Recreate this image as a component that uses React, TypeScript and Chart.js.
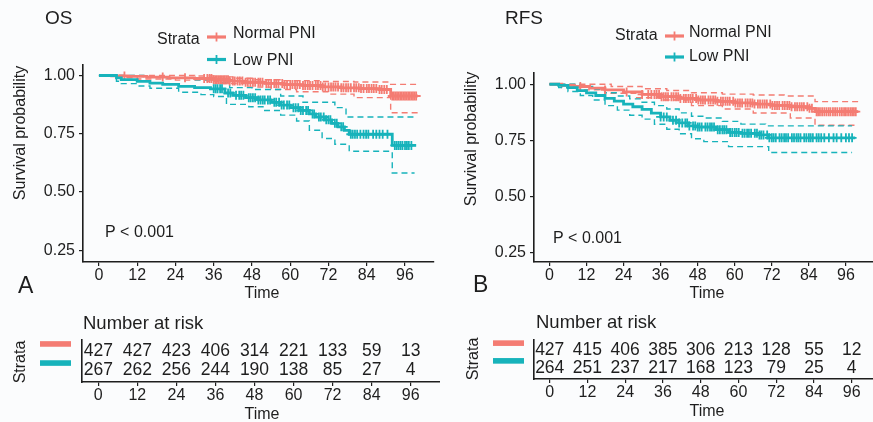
import React, { useEffect, useRef } from 'react';
import { Chart, registerables } from 'chart.js';
Chart.register(...registerables);

// ---------- data ----------
const xTicks = [0, 12, 24, 36, 48, 60, 72, 84, 96];
const yTicks = [0.25, 0.5, 0.75, 1.0];
const strataNames = ['Normal PNI', 'Low PNI'];

// OS – Normal PNI
const osNormT = [0, 4, 9, 15, 22, 30, 36, 41, 46, 52, 58, 64, 70, 76, 82, 88, 91.5, 100];
const osNormS = [1, 0.998, 0.996, 0.993, 0.99, 0.987, 0.982, 0.976, 0.971, 0.966, 0.961, 0.957, 0.951, 0.947, 0.944, 0.94, 0.912, 0.912];
const osNormUpT = [0, 20, 30, 36, 42, 48, 58, 70, 80, 91.5, 100];
const osNormUpS = [1, 1, 0.998, 0.994, 0.988, 0.982, 0.978, 0.974, 0.972, 0.962, 0.962];
const osNormLoT = [0, 5, 12, 24, 34, 38, 46, 54, 62, 72, 80, 91.5, 100];
const osNormLoS = [1, 0.99, 0.985, 0.98, 0.975, 0.965, 0.95, 0.94, 0.93, 0.92, 0.905, 0.84, 0.84];
const osNormCens = [8, 20, 27, 33, 34, 34.7, 35.3, 36, 36.5, 37, 37.5, 38, 38.5, 39, 39.5, 40, 40.5, 41, 42, 42.6, 43.5, 44.2, 45, 46, 46.7, 47.5, 48.3, 49, 50, 50.6, 51.3, 52.5, 53.2, 54, 55, 55.6, 56.3, 57.5, 58.2, 59, 60, 60.7, 61.5, 62.2, 63, 64, 64.7, 65.5, 66.2, 67, 68, 68.7, 69.5, 70.2, 71, 72, 72.8, 73.5, 74.2, 75, 76, 76.7, 77.5, 78.2, 79, 80, 80.7, 81.5, 82.2, 83, 84, 84.7, 85.5, 86.2, 87, 88, 88.7, 89.5, 90.3, 92, 92.5, 93, 93.5, 94, 94.5, 95, 95.5, 96, 96.5, 97, 97.5, 98, 98.5, 99, 99.5];

// OS – Low PNI
const osLowT = [0, 5.5, 7, 12, 16, 20, 25, 30, 35, 39.5, 42, 46, 50, 54, 57, 60, 63, 66, 68, 71, 73, 75, 77, 78.5, 92, 99.5];
const osLowS = [1, 0.99, 0.982, 0.975, 0.967, 0.962, 0.953, 0.948, 0.943, 0.925, 0.915, 0.905, 0.895, 0.885, 0.873, 0.862, 0.85, 0.835, 0.822, 0.81, 0.795, 0.78, 0.765, 0.748, 0.7, 0.7];
const osLowUpT = [0, 8, 14, 20, 30, 38, 41, 48, 57, 64, 74, 77.5, 99];
const osLowUpS = [1, 1, 0.995, 0.99, 0.982, 0.97, 0.948, 0.94, 0.912, 0.885, 0.862, 0.822, 0.822];
const osLowLoT = [0, 5.5, 7, 12, 16, 25, 32, 36, 40, 47, 52, 57, 62, 66, 70, 74, 78.5, 92, 99];
const osLowLoS = [1, 0.975, 0.965, 0.955, 0.945, 0.928, 0.918, 0.91, 0.876, 0.866, 0.85, 0.83, 0.805, 0.765, 0.73, 0.705, 0.675, 0.582, 0.582];
const osLowCens = [36, 36.6, 37.2, 38, 38.6, 40.5, 41.2, 43, 44, 44.6, 45.3, 47, 47.6, 48.3, 49, 50, 50.7, 51.4, 52, 53, 53.7, 55, 55.6, 56.5, 57.3, 58, 59, 59.7, 61, 61.7, 62.5, 63.3, 64, 65, 65.6, 67, 67.5, 69, 69.6, 70.5, 71.3, 72, 72.6, 74, 74.6, 76, 76.6, 79, 79.6, 80.3, 81, 82, 83, 83.8, 84.5, 86, 87, 88, 89, 90.5, 92.8, 93.4, 94, 94.6, 95.2, 96, 96.6, 97.2, 98];

// RFS – Normal PNI
const rfsNormT = [0, 4, 8, 13, 18, 24, 30, 36, 42, 48, 54, 60, 66, 72, 78, 84, 86, 100];
const rfsNormS = [1, 0.995, 0.99, 0.983, 0.975, 0.966, 0.955, 0.945, 0.937, 0.93, 0.924, 0.917, 0.912, 0.906, 0.9, 0.893, 0.878, 0.878];
const rfsNormUpT = [0, 12, 20, 30, 38, 46, 56, 66, 76, 86, 100];
const rfsNormUpS = [1, 1, 0.99, 0.98, 0.972, 0.962, 0.956, 0.952, 0.948, 0.923, 0.923];
const rfsNormLoT = [0, 4, 10, 18, 28, 36, 46, 56, 66, 78, 86, 100];
const rfsNormLoS = [1, 0.985, 0.975, 0.96, 0.94, 0.93, 0.905, 0.89, 0.872, 0.85, 0.818, 0.818];
const rfsNormCens = [10, 18, 25, 30, 32, 33, 34, 34.7, 35.5, 36.3, 37, 37.7, 38.4, 39.5, 40.2, 41, 41.7, 42.4, 43.5, 44.2, 45, 45.7, 46.4, 47.5, 48.2, 49, 49.7, 50.4, 51.5, 52.2, 53, 53.7, 54.4, 55.5, 56.2, 57, 57.7, 58.4, 59.5, 60.2, 61, 61.7, 62.4, 63.5, 64.2, 65, 65.7, 66.4, 67.5, 68.2, 69, 69.7, 70.4, 71.5, 72.2, 73, 73.7, 74.4, 75.5, 76.2, 77, 77.7, 78.4, 79.5, 80.2, 81, 81.7, 82.4, 83.5, 84.2, 85, 86.5, 87, 87.6, 88.3, 89, 89.7, 90.4, 91, 91.8, 92.5, 93.2, 94, 94.7, 95.4, 96, 96.7, 97.4, 98, 98.6, 99.2];

// RFS – Low PNI
const rfsLowT = [0, 3, 6, 9, 12, 15, 18, 21, 24, 27, 30, 33, 36, 39, 42, 45, 48, 54, 58, 62, 68, 71, 99];
const rfsLowS = [1, 0.995, 0.985, 0.972, 0.962, 0.95, 0.937, 0.925, 0.912, 0.9, 0.888, 0.872, 0.855, 0.84, 0.828, 0.815, 0.81, 0.798, 0.786, 0.782, 0.775, 0.762, 0.762];
const rfsLowUpT = [0, 6, 10, 14, 18, 22, 26, 30, 34, 38, 42, 46, 50, 56, 62, 70, 98];
const rfsLowUpS = [1, 1, 0.99, 0.978, 0.962, 0.948, 0.935, 0.92, 0.905, 0.89, 0.873, 0.858, 0.85, 0.835, 0.823, 0.815, 0.815];
const rfsLowLoT = [0, 3, 6, 10, 14, 18, 22, 26, 30, 34, 38, 42, 46, 50, 58, 71, 98];
const rfsLowLoS = [1, 0.985, 0.968, 0.95, 0.93, 0.905, 0.885, 0.862, 0.845, 0.822, 0.8, 0.78, 0.758, 0.745, 0.723, 0.697, 0.697];
const rfsLowCens = [36, 37, 38, 40, 41, 42, 43, 44, 44.6, 45.3, 46.5, 47.2, 48, 48.6, 49.3, 50.5, 51.2, 52, 52.6, 53.3, 54.5, 55.2, 56, 56.6, 57.3, 58.5, 59.2, 60, 60.6, 61.3, 62.5, 63.2, 64, 64.6, 65.3, 66.5, 67.2, 68, 68.6, 69.3, 70.5, 71.2, 72, 72.6, 73.3, 74.5, 75.2, 76, 76.6, 77.3, 78.5, 79.2, 80, 80.6, 81.3, 82.5, 83.2, 84, 84.6, 85.3, 86.5, 87.2, 88, 89, 90.5, 92, 93, 94.5, 96, 97, 98];

// numbers at risk
const osRiskNormal = [427, 427, 423, 406, 314, 221, 133, 59, 13];
const osRiskLow = [267, 262, 256, 244, 190, 138, 85, 27, 4];
const rfsRiskNormal = [427, 415, 406, 385, 306, 213, 128, 55, 12];
const rfsRiskLow = [264, 251, 237, 217, 168, 123, 79, 25, 4];

// ---------- styles ----------
const RED = '#F47C73';
const TEAL = '#17B3BB';
const INK = '#1e1e1e';
const FAM = "'Liberation Sans', Arial, Helvetica, sans-serif";
const BG = '#fbfcfd';

const pts = (t: number[], s: number[]) => t.map((v, i) => ({ x: v, y: s[i] }));
const stepAt = (t: number[], s: number[], x: number) => {
  let v = s[0];
  for (let i = 0; i < t.length; i++) if (t[i] <= x) v = s[i];
  return v;
};

function lineDs(data: any[], color: string, dashed: boolean, order: number) {
  return {
    type: 'line',
    data,
    borderColor: color,
    backgroundColor: color,
    borderWidth: dashed ? 1.4 : 2.8,
    borderDash: dashed ? [6, 4] : [],
    stepped: 'before',
    pointRadius: 0,
    fill: false,
    order,
  };
}
function censDs(t: number[], s: number[], cens: number[], color: string, order: number) {
  return {
    type: 'scatter',
    data: cens.map((c) => ({ x: c, y: stepAt(t, s, c) })),
    borderColor: color,
    backgroundColor: color,
    pointStyle: 'cross',
    pointRadius: 4.5,
    borderWidth: 1.8,
    order,
  };
}

function text(ctx: CanvasRenderingContext2D, s: string, x: number, y: number, size: number, align: CanvasTextAlign = 'left', rot = 0) {
  ctx.save();
  ctx.font = `${size}px ${FAM}`;
  ctx.fillStyle = INK;
  ctx.textAlign = align;
  ctx.textBaseline = 'middle';
  ctx.translate(x, y);
  if (rot) ctx.rotate(rot);
  ctx.fillText(s, 0, 0);
  ctx.restore();
}

type KMCfg = {
  left: number; width: number; height: number;
  areaLeft: number; areaTop: number; areaBottom: number;
  yMin: number; yMax: number;
  title: string; titleX: number;
  letter: string; letterX: number; letterY: number;
  pX: number; pY: number;
  yTitleX: number; yTitleY: number;
  timeX: number;
  legX: number; legStrataY: number; legSymX: number; legTextX: number; legY1: number; legY2: number; legTY1: number; legTY2: number;
  normal: { t: number[]; s: number[]; ut: number[]; us: number[]; lt: number[]; ls: number[]; c: number[] };
  low: { t: number[]; s: number[]; ut: number[]; us: number[]; lt: number[]; ls: number[]; c: number[] };
};

function KMPanel({ cfg }: { cfg: KMCfg }) {
  const ref = useRef<HTMLCanvasElement>(null);
  useEffect(() => {
    const n = cfg.normal, l = cfg.low;
    const overlay = {
      id: 'kmText',
      afterDraw(chart: any) {
        const ctx = chart.ctx as CanvasRenderingContext2D;
        text(ctx, cfg.title, cfg.titleX, 19, 19);
        text(ctx, 'Strata', cfg.legX, cfg.legStrataY, 16);
        const sym = (y: number, c: string) => {
          ctx.save();
          ctx.strokeStyle = c;
          ctx.lineWidth = 3.2;
          ctx.beginPath();
          ctx.moveTo(cfg.legSymX, y);
          ctx.lineTo(cfg.legSymX + 19, y);
          ctx.stroke();
          ctx.lineWidth = 1.8;
          ctx.beginPath();
          ctx.moveTo(cfg.legSymX + 9.5, y - 4.5);
          ctx.lineTo(cfg.legSymX + 9.5, y + 4.5);
          ctx.stroke();
          ctx.restore();
        };
        sym(cfg.legY1, RED);
        sym(cfg.legY2, TEAL);
        text(ctx, strataNames[0], cfg.legTextX, cfg.legTY1, 16);
        text(ctx, strataNames[1], cfg.legTextX, cfg.legTY2, 16);
        text(ctx, 'P < 0.001', cfg.pX, cfg.pY, 16);
        text(ctx, 'Survival probability', cfg.yTitleX, cfg.yTitleY, 16, 'center', -Math.PI / 2);
        text(ctx, 'Time', cfg.timeX, 294, 16, 'center');
        text(ctx, cfg.letter, cfg.letterX, cfg.letterY, 23);
      },
    };
    const chart = new Chart(ref.current as HTMLCanvasElement, {
      type: 'line',
      data: {
        datasets: [
          censDs(l.t, l.s, l.c, TEAL, 0),
          lineDs(pts(l.t, l.s), TEAL, false, 1),
          censDs(n.t, n.s, n.c, RED, 2),
          lineDs(pts(n.t, n.s), RED, false, 3),
          lineDs(pts(l.ut, l.us), TEAL, true, 4),
          lineDs(pts(l.lt, l.ls), TEAL, true, 4),
          lineDs(pts(n.ut, n.us), RED, true, 5),
          lineDs(pts(n.lt, n.ls), RED, true, 5),
        ] as any,
      },
      options: {
        animation: false,
        responsive: false,
        maintainAspectRatio: false,
        layout: { padding: { top: cfg.areaTop, left: 0, right: 0, bottom: 0 } },
        plugins: { legend: { display: false }, tooltip: { enabled: false }, title: { display: false } },
        scales: {
          x: {
            type: 'linear', min: -5, max: 105,
            afterBuildTicks: (s: any) => { s.ticks = xTicks.map((v) => ({ value: v })); },
            afterFit: (s: any) => { s.height = cfg.height - cfg.areaBottom; },
            grid: { drawOnChartArea: false, drawTicks: true, tickLength: 4, color: INK, lineWidth: 1.2 },
            border: { display: true, color: INK, width: 1.6 },
            ticks: { font: { family: FAM, size: 16 }, color: INK, padding: 0, maxRotation: 0, autoSkip: false, callback: (v: any) => String(v) },
          },
          y: {
            type: 'linear', min: cfg.yMin, max: cfg.yMax,
            afterBuildTicks: (s: any) => { s.ticks = yTicks.map((v) => ({ value: v })); },
            afterFit: (s: any) => { s.width = cfg.areaLeft; },
            grid: { drawOnChartArea: false, drawTicks: true, tickLength: 4, color: INK, lineWidth: 1.2 },
            border: { display: true, color: INK, width: 1.6 },
            ticks: { font: { family: FAM, size: 16 }, color: INK, padding: 4, autoSkip: false, callback: (v: any) => Number(v).toFixed(2) },
          },
        },
      } as any,
      plugins: [overlay],
    });
    return () => chart.destroy();
  }, []);
  return (
    <canvas
      ref={ref}
      width={cfg.width}
      height={cfg.height}
      style={{ position: 'absolute', left: cfg.left, top: 0, width: cfg.width, height: cfg.height }}
    />
  );
}

type RiskCfg = {
  left: number; top: number; width: number; height: number;
  areaLeft: number; areaTop: number; areaBottom: number;
  titleX: number; titleY: number;
  stripX: number; strataX: number; strataY: number;
  timeX: number; timeY: number;
  normal: number[]; low: number[];
};

function RiskPanel({ cfg }: { cfg: RiskCfg }) {
  const ref = useRef<HTMLCanvasElement>(null);
  useEffect(() => {
    const overlay = {
      id: 'riskText',
      afterDraw(chart: any) {
        const ctx = chart.ctx as CanvasRenderingContext2D;
        const xs = chart.scales.x, ys = chart.scales.y;
        text(ctx, 'Number at risk', cfg.titleX, cfg.titleY, 18.5);
        [cfg.normal, cfg.low].forEach((row, r) => {
          const py = ys.getPixelForValue(r);
          row.forEach((v, i) => text(ctx, String(v), xs.getPixelForValue(xTicks[i]), py, 17.5, 'center'));
          ctx.save();
          ctx.fillStyle = r === 0 ? RED : TEAL;
          ctx.fillRect(cfg.stripX, py - 7.5 - 2.8, 31, 5.6);
          ctx.restore();
        });
        text(ctx, 'Strata', cfg.strataX, cfg.strataY, 16, 'center', -Math.PI / 2);
        text(ctx, 'Time', cfg.timeX, cfg.timeY, 16, 'center');
      },
    };
    const chart = new Chart(ref.current as HTMLCanvasElement, {
      type: 'scatter',
      data: {
        datasets: [
          { data: cfg.normal.map((_, i) => ({ x: xTicks[i], y: 0 })), pointRadius: 0 },
          { data: cfg.low.map((_, i) => ({ x: xTicks[i], y: 1 })), pointRadius: 0 },
        ],
      },
      options: {
        animation: false,
        responsive: false,
        maintainAspectRatio: false,
        layout: { padding: { top: cfg.areaTop, left: 0, right: 0, bottom: 0 } },
        plugins: { legend: { display: false }, tooltip: { enabled: false } },
        scales: {
          x: {
            type: 'linear', min: -5, max: 105,
            afterBuildTicks: (s: any) => { s.ticks = xTicks.map((v) => ({ value: v })); },
            afterFit: (s: any) => { s.height = cfg.height - cfg.areaBottom; },
            grid: { drawOnChartArea: false, drawTicks: true, tickLength: 4, color: INK, lineWidth: 1.2 },
            border: { display: true, color: INK, width: 1.6 },
            ticks: { font: { family: FAM, size: 16 }, color: INK, padding: 0, maxRotation: 0, autoSkip: false, callback: (v: any) => String(v) },
          },
          y: {
            type: 'linear', min: -0.6, max: 1.6, reverse: true,
            afterFit: (s: any) => { s.width = cfg.areaLeft; },
            grid: { display: false },
            border: { display: true, color: INK, width: 1.6 },
            ticks: { display: false },
          },
        },
      } as any,
      plugins: [overlay],
    });
    return () => chart.destroy();
  }, []);
  return (
    <canvas
      ref={ref}
      width={cfg.width}
      height={cfg.height}
      style={{ position: 'absolute', left: cfg.left, top: cfg.top, width: cfg.width, height: cfg.height }}
    />
  );
}

const osCfg: KMCfg = {
  left: 0, width: 440, height: 305,
  areaLeft: 83, areaTop: 65, areaBottom: 262,
  yMin: 0.2, yMax: 1.045,
  title: 'OS', titleX: 45,
  letter: 'A', letterX: 18, letterY: 287,
  pX: 105, pY: 233,
  yTitleX: 21, yTitleY: 133,
  timeX: 262,
  legX: 157, legStrataY: 40, legSymX: 207, legTextX: 233, legY1: 37, legY2: 59.5, legTY1: 34, legTY2: 60.5,
  normal: { t: osNormT, s: osNormS, ut: osNormUpT, us: osNormUpS, lt: osNormLoT, ls: osNormLoS, c: osNormCens },
  low: { t: osLowT, s: osLowS, ut: osLowUpT, us: osLowUpS, lt: osLowLoT, ls: osLowLoS, c: osLowCens },
};

const rfsCfg: KMCfg = {
  left: 440, width: 440, height: 305,
  areaLeft: 94, areaTop: 73, areaBottom: 262,
  yMin: 0.21, yMax: 1.05,
  title: 'RFS', titleX: 65,
  letter: 'B', letterX: 33, letterY: 286,
  pX: 113, pY: 239,
  yTitleX: 32, yTitleY: 139,
  timeX: 267,
  legX: 175, legStrataY: 36, legSymX: 225, legTextX: 249, legY1: 36, legY2: 57, legTY1: 33, legTY2: 57,
  normal: { t: rfsNormT, s: rfsNormS, ut: rfsNormUpT, us: rfsNormUpS, lt: rfsNormLoT, ls: rfsNormLoS, c: rfsNormCens },
  low: { t: rfsLowT, s: rfsLowS, ut: rfsLowUpT, us: rfsLowUpS, lt: rfsLowLoT, ls: rfsLowLoS, c: rfsLowCens },
};

const osRisk: RiskCfg = {
  left: 0, top: 300, width: 440, height: 122,
  areaLeft: 82, areaTop: 40, areaBottom: 82,
  titleX: 83, titleY: 24,
  stripX: 40, strataX: 21, strataY: 62,
  timeX: 262, timeY: 115,
  normal: osRiskNormal, low: osRiskLow,
};

const rfsRisk: RiskCfg = {
  left: 440, top: 300, width: 440, height: 122,
  areaLeft: 94, areaTop: 40, areaBottom: 79,
  titleX: 96, titleY: 23,
  stripX: 53, strataX: 34, strataY: 59,
  timeX: 267, timeY: 112,
  normal: rfsRiskNormal, low: rfsRiskLow,
};

export default function App() {
  return (
    <div style={{ position: 'fixed', left: 0, top: 0, width: 873, height: 422, overflow: 'hidden', background: BG }}>
      <KMPanel cfg={osCfg} />
      <KMPanel cfg={rfsCfg} />
      <RiskPanel cfg={osRisk} />
      <RiskPanel cfg={rfsRisk} />
    </div>
  );
}
